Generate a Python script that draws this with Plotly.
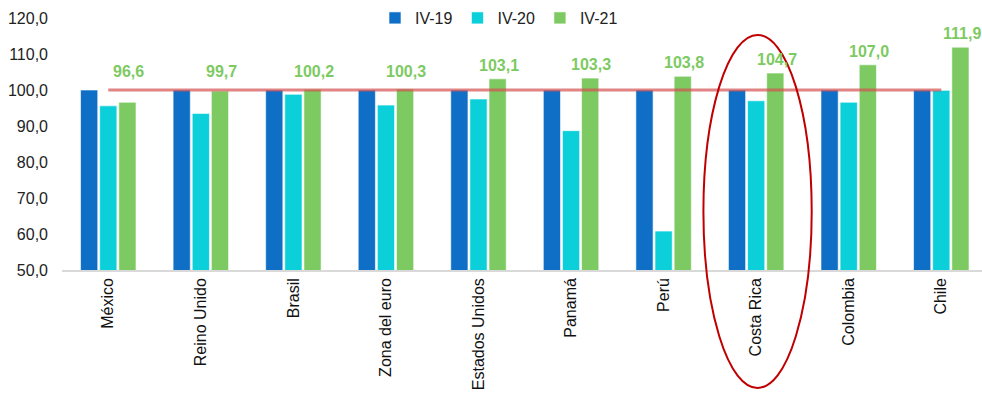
import plotly.graph_objects as go

categories = ["México", "Reino Unido", "Brasil", "Zona del euro", "Estados Unidos",
              "Panamá", "Perú", "Costa Rica", "Colombia", "Chile"]
iv19 = [100.0, 100.0, 100.0, 100.0, 100.0, 100.0, 100.0, 100.0, 100.0, 100.0]
iv20 = [95.6, 93.5, 98.8, 95.8, 97.5, 88.7, 60.8, 97.0, 96.6, 99.9]
iv21 = [96.6, 99.7, 100.2, 100.3, 103.1, 103.3, 103.8, 104.7, 107.0, 111.9]
reference = [100.0] * len(categories)
series_names = ["IV-19", "IV-20", "IV-21"]

c_blue = "#0f6fc6"
c_cyan = "#0bcfd9"
c_green = "#7dca62"

fig = go.Figure()
for name, vals, col in zip(series_names, [iv19, iv20, iv21], [c_blue, c_cyan, c_green]):
    fig.add_trace(go.Bar(
        x=categories, y=vals, name=name,
        marker=dict(color=col, line=dict(color="rgba(255,255,255,0.6)", width=1)),
    ))

fig.add_trace(go.Scatter(
    x=categories, y=reference, mode="lines", showlegend=False,
    line=dict(color="rgba(214,80,80,0.7)", width=3), hoverinfo="skip",
))

def fmt(v):
    return f"{v:.1f}".replace(".", ",")

for i, v in enumerate(iv21):
    fig.add_annotation(
        x=i + 0.22, y=max(v, 101.5), xref="x", yref="y",
        text=f"<b>{fmt(v)}</b>", showarrow=False, yanchor="bottom", yshift=3,
        font=dict(color=c_green, size=16, family="Liberation Sans, Arial"),
    )

# highlight ellipse around Costa Rica
ci = categories.index("Costa Rica")
fig.add_shape(
    type="circle", xref="x", yref="paper",
    x0=ci - 0.57, x1=ci + 0.6, y0=-0.468, y1=0.933,
    line=dict(color="#c00000", width=2), layer="above",
)

fig.update_layout(
    width=982, height=396,
    margin=dict(l=62, r=0, t=18, b=126, autoexpand=False),
    plot_bgcolor="white", paper_bgcolor="white",
    separators=",.",
    barmode="group", bargap=0.38, bargroupgap=0.1,
    font=dict(family="Liberation Sans, Arial", size=15, color="#222222"),
    legend=dict(orientation="h", x=0.475, xanchor="center", y=1.0, yanchor="middle",
                font=dict(size=16), itemwidth=30, bgcolor="rgba(0,0,0,0)"),
    xaxis=dict(type="category", range=[-0.5, 9.44], tickangle=-90, automargin=False,
               showline=True, linecolor="#d9d9d9", linewidth=1.5, ticks="",
               tickfont=dict(size=16, color="#111111"), showgrid=False),
    yaxis=dict(range=[50, 120], dtick=10, tickformat=".1f", showgrid=False, automargin=False,
               zeroline=False, showline=False, ticks="", ticklabelstandoff=13,
               tickfont=dict(size=16, color="#222222")),
)

fig.write_html("out.html")
